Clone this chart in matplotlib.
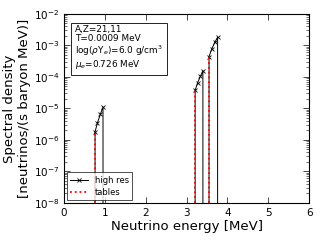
import numpy as np
import matplotlib
matplotlib.use("Agg")
import matplotlib.pyplot as plt

# High-resolution spectrum, one segment per peak (energy in MeV, density)
peak1_e = [0.76, 0.82, 0.89, 0.955]
peak1_v = [1.8e-6, 3.5e-6, 6.5e-6, 1.1e-5]
peak2_e = [3.21, 3.27, 3.34, 3.40]
peak2_v = [3.7e-5, 6.5e-5, 1.05e-4, 1.55e-4]
peak3_e = [3.55, 3.62, 3.69, 3.76]
peak3_v = [4.4e-4, 7.8e-4, 1.25e-3, 1.8e-3]

# Tables: values at thresholds
table_e = [0.76, 3.21, 3.55]
table_v = [1.8e-6, 3.7e-5, 4.4e-4]

floor = 1e-30

fig = plt.figure(figsize=(3.2, 2.4), dpi=100)
ax = fig.add_axes([0.2, 0.155, 0.766, 0.787])

# Build the continuous high-res line
he, hv = [0.0], [floor]
for es, vs in [(peak1_e, peak1_v), (peak2_e, peak2_v), (peak3_e, peak3_v)]:
    he += [es[0]] + list(es) + [es[-1]]
    hv += [floor] + list(vs) + [floor]
he += [6.0]
hv += [floor]
mk = [i for i, v in enumerate(hv) if v > floor]
ax.plot(he, hv, color='black', lw=0.7, marker='x', ms=3, mew=0.6,
        markevery=mk, label='high res')

# Tables as dotted vertical lines
te, tv = [], []
for e, v in zip(table_e, table_v):
    te += [e, e, np.nan]
    tv += [floor, v, np.nan]
ax.plot(te, tv, color='red', ls=':', lw=1.3, label='tables')

ax.set_yscale('log')
ax.set_xlim(0, 6)
ax.set_ylim(1e-8, 1e-2)
ax.set_xticks([0, 1, 2, 3, 4, 5, 6])
ax.tick_params(which='both', direction='in', top=True, right=True, labelsize=7.5)
ax.tick_params(which='major', length=4, width=0.5)
ax.tick_params(which='minor', length=2, width=0.4)
for s in ax.spines.values():
    s.set_linewidth(0.8)

ax.set_xlabel('Neutrino energy [MeV]', fontsize=9.5, labelpad=2)
ax.set_ylabel('Spectral density\n[neutrinos/(s baryon MeV)]', fontsize=9.5, labelpad=2)

ax.text(0.045, 0.94,
        'A,Z=21,11\nT=0.0009 MeV\nlog($\\rho$Y$_e$)=6.0 g/cm$^3$\n$\\mu_e$=0.726 MeV',
        transform=ax.transAxes, fontsize=6.4, va='top', ha='left', linespacing=1.0,
        bbox=dict(boxstyle='square,pad=0.45', fc='white', ec='black', lw=0.6))

leg = ax.legend(loc='lower left', fontsize=6, frameon=True, fancybox=False,
                edgecolor='black', handlelength=2.2, borderpad=0.4,
                labelspacing=0.4, borderaxespad=0.3)
leg.get_frame().set_linewidth(0.6)

fig.savefig('out.png', dpi=100)
